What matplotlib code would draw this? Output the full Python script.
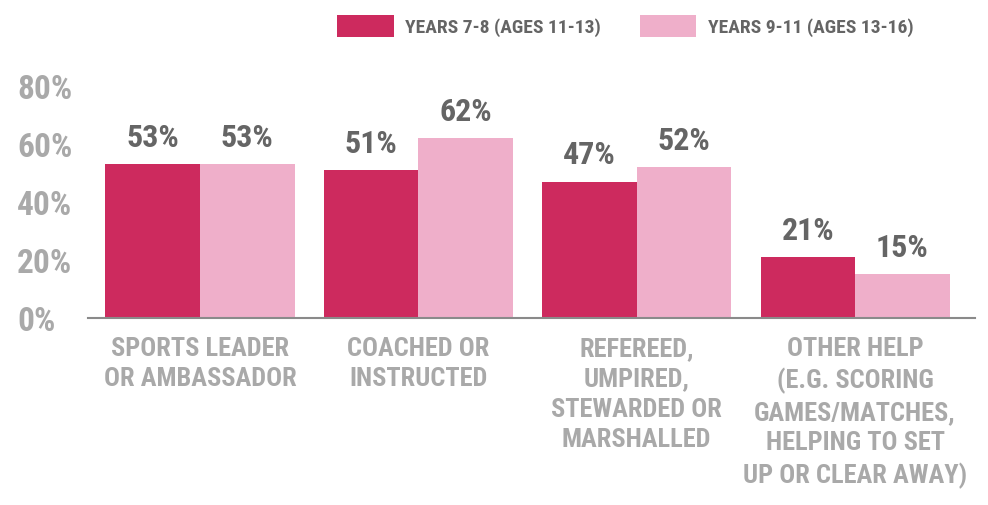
import numpy as np
import matplotlib.pyplot as plt
from matplotlib import font_manager

categories = ["SPORTS LEADER\nOR AMBASSADOR", "COACHED OR\nINSTRUCTED",
              "REFEREED,\nUMPIRED,\nSTEWARDED OR\nMARSHALLED",
              "OTHER HELP\n(E.G. SCORING\nGAMES/MATCHES,\nHELPING TO SET\nUP OR CLEAR AWAY)"]
years_7_8 = [53, 51, 47, 21]
years_9_11 = [53, 62, 52, 15]
series_names = ["YEARS 7-8 (AGES 11-13)", "YEARS 9-11 (AGES 13-16)"]
yticks = [0, 20, 40, 60, 80]

names = {f.name for f in font_manager.fontManager.ttflist}
fam = [f for f in ["Liberation Sans Narrow", "Roboto Condensed", "Roboto"] if f in names] + ["DejaVu Sans"]
plt.rcParams['font.family'] = fam
plt.rcParams['font.weight'] = 'bold'

dark = "#CD2A5E"
light = "#EFAFCA"
txt = "#656565"
tick_grey = "#A9A9A9"

fig = plt.figure(figsize=(9.88, 5.06), dpi=100)
ax = fig.add_axes([0.089, 0.3696, 0.898, 0.4585])

x = np.arange(len(categories))
w = 0.433
b1 = ax.bar(x - w / 2, years_7_8, w, color=dark, label=series_names[0])
b2 = ax.bar(x + w / 2, years_9_11, w, color=light, label=series_names[1])

for bars in (b1, b2):
    for r in bars:
        ax.annotate(f"{r.get_height():.0f}%", (r.get_x() + r.get_width() / 2, r.get_height()),
                    xytext=(0, 9), textcoords="offset points", ha="center", va="bottom",
                    fontsize=23, color=txt, fontweight="bold")

ax.set_xlim(-0.513, 3.55)
ax.set_ylim(0, 80)
ax.set_yticks(yticks)
ax.set_yticklabels([f"{v}%" for v in yticks], fontsize=24, color=tick_grey, ha="left")
ax.tick_params(axis="y", length=0, pad=51)
ax.set_xticks(x)
ax.set_xticklabels(categories, fontsize=19, color=tick_grey, linespacing=1.34, va="top")
ax.tick_params(axis="x", length=0, pad=13)

for s in ["top", "right", "left"]:
    ax.spines[s].set_visible(False)
ax.spines["bottom"].set_color("#8a8a8a")
ax.spines["bottom"].set_linewidth(1.5)

fig.legend(handles=[b1, b2], labels=series_names, loc="center", bbox_to_anchor=(0.633, 0.947),
           ncol=2, frameon=False, fontsize=14, handlelength=2.9, handleheight=1.35,
           columnspacing=2.0, handletextpad=0.6, labelcolor=txt)

fig.savefig("out.png", dpi=100)
